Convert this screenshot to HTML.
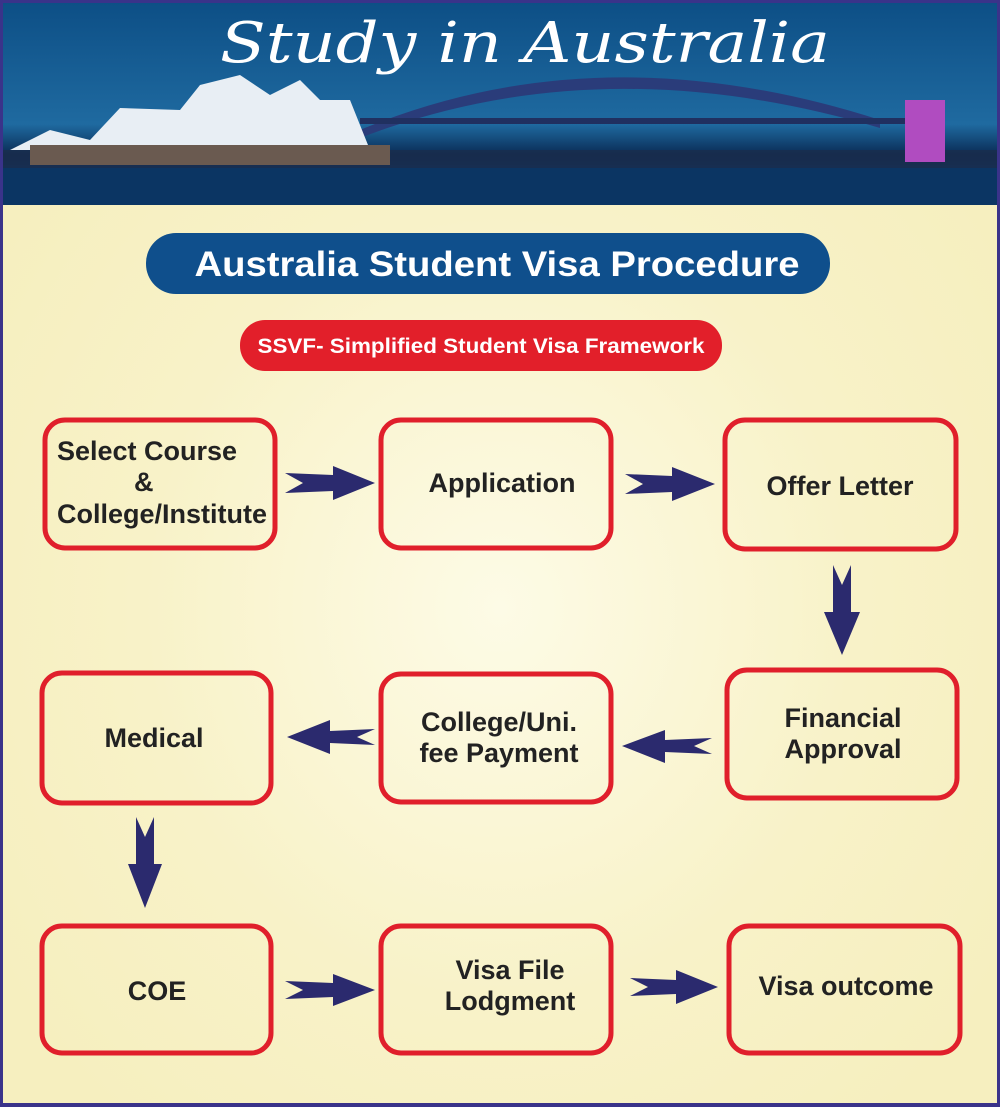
<!DOCTYPE html>
<html><head><meta charset="utf-8"><style>
html,body{margin:0;padding:0;}
body{width:1000px;height:1107px;overflow:hidden;}
</style></head><body>
<svg width="1000" height="1107" viewBox="0 0 1000 1107" xmlns="http://www.w3.org/2000/svg">
<defs>
<radialGradient id="bg" cx="0.5" cy="0.55" r="0.6">
<stop offset="0" stop-color="#fdfbe6"/><stop offset="0.6" stop-color="#f8f2c8"/><stop offset="1" stop-color="#f6efbf"/>
</radialGradient>
<linearGradient id="sky" x1="0" y1="0" x2="0" y2="1">
<stop offset="0" stop-color="#0d4f86"/><stop offset="0.6" stop-color="#1f6aa0"/><stop offset="0.75" stop-color="#0a2c55"/><stop offset="1" stop-color="#0b3f74"/>
</linearGradient>
</defs>
<rect x="0" y="0" width="1000" height="1107" fill="#3a338a"/>
<rect x="3" y="3" width="994" height="1100" fill="url(#bg)"/>
<!-- header -->
<rect x="3" y="3" width="994" height="202" fill="url(#sky)"/>
<rect x="3" y="165" width="994" height="40" fill="#0b3563"/>
<rect x="3" y="150" width="994" height="18" fill="#1c2c4a" opacity="0.7"/>
<path d="M360 130 Q600 30 880 120 L880 128 Q600 45 360 138Z" fill="#2a3c7a"/>
<rect x="360" y="118" width="560" height="6" fill="#203060"/>
<rect x="905" y="100" width="40" height="62" fill="#b04cc0"/>
<path d="M10 150 L50 130 L90 140 L120 108 L180 110 L200 85 L240 75 L270 95 L300 80 L320 100 L350 100 L370 150Z" fill="#e8eef4"/>
<rect x="30" y="145" width="360" height="20" fill="#6a5a50"/>
<text x="525" y="62" font-family="'DejaVu Serif','Liberation Serif',serif" font-style="italic" font-size="56" fill="#ffffff" text-anchor="middle" textLength="610" lengthAdjust="spacingAndGlyphs">Study in Australia</text>
<!-- title pills -->
<rect x="146" y="233" width="684" height="61" rx="30" fill="#0f4f8c"/>
<text x="497" y="276" font-family="'Liberation Sans Narrow','Liberation Sans',sans-serif" font-weight="bold" font-size="35" fill="#fff" text-anchor="middle" textLength="605" lengthAdjust="spacingAndGlyphs">Australia Student Visa Procedure</text>
<rect x="240" y="320" width="482" height="51" rx="25" fill="#e21f2a"/>
<text x="481" y="353" font-family="'Liberation Sans Narrow','Liberation Sans',sans-serif" font-weight="bold" font-size="21" fill="#fff" text-anchor="middle" textLength="447" lengthAdjust="spacingAndGlyphs">SSVF- Simplified Student Visa Framework</text>
<!-- boxes -->
<g fill="none" stroke="#e01f2b" stroke-width="5">
<rect x="45" y="420" width="230" height="128" rx="20"/>
<rect x="381" y="420" width="230" height="128" rx="20"/>
<rect x="725" y="420" width="231" height="129" rx="20"/>
<rect x="727" y="670" width="230" height="128" rx="20"/>
<rect x="381" y="674" width="230" height="128" rx="20"/>
<rect x="42" y="673" width="229" height="130" rx="20"/>
<rect x="42" y="926" width="229" height="127" rx="20"/>
<rect x="381" y="926" width="230" height="127" rx="20"/>
<rect x="729" y="926" width="231" height="127" rx="20"/>
</g>
<g font-family="'Liberation Sans',sans-serif" font-weight="bold" font-size="27" fill="#222">
<text x="57" y="460">Select Course</text>
<text x="134" y="491">&amp;</text>
<text x="57" y="523">College/Institute</text>
<text x="502" y="492" text-anchor="middle">Application</text>
<text x="840" y="495" text-anchor="middle">Offer Letter</text>
<text x="843" y="727" text-anchor="middle">Financial</text>
<text x="843" y="758" text-anchor="middle">Approval</text>
<text x="499" y="731" text-anchor="middle">College/Uni.</text>
<text x="499" y="762" text-anchor="middle">fee Payment</text>
<text x="154" y="747" text-anchor="middle">Medical</text>
<text x="157" y="1000" text-anchor="middle">COE</text>
<text x="510" y="979" text-anchor="middle">Visa File</text>
<text x="510" y="1010" text-anchor="middle">Lodgment</text>
<text x="846" y="995" text-anchor="middle">Visa outcome</text>
</g>
<!-- arrows -->
<g fill="#2b2a6e">
<polygon points="285,473 333,475 333,466 375,483 333,500 333,491 285,493 303,483"/>
<polygon points="625,474 672,476 672,467 715,484 672,501 672,492 625,494 643,484"/>
<polygon points="285,981 333,983 333,974 375,990 333,1006 333,997 285,999 303,990"/>
<polygon points="630,978 676,980 676,970 718,987 676,1004 676,994 630,996 648,987"/>
<polygon points="375,729 330,731 330,720 287,737 330,754 330,743 375,745 357,737"/>
<polygon points="712,738 665,740 665,730 622,746 665,763 665,752 712,754 694,746"/>
<polygon points="833,565 842,585 851,565 851,612 860,612 842,655 824,612 833,612"/>
<polygon points="136,817 145,837 154,817 154,864 162,864 145,908 128,864 136,864"/>
</g>
</svg>
</body></html>
